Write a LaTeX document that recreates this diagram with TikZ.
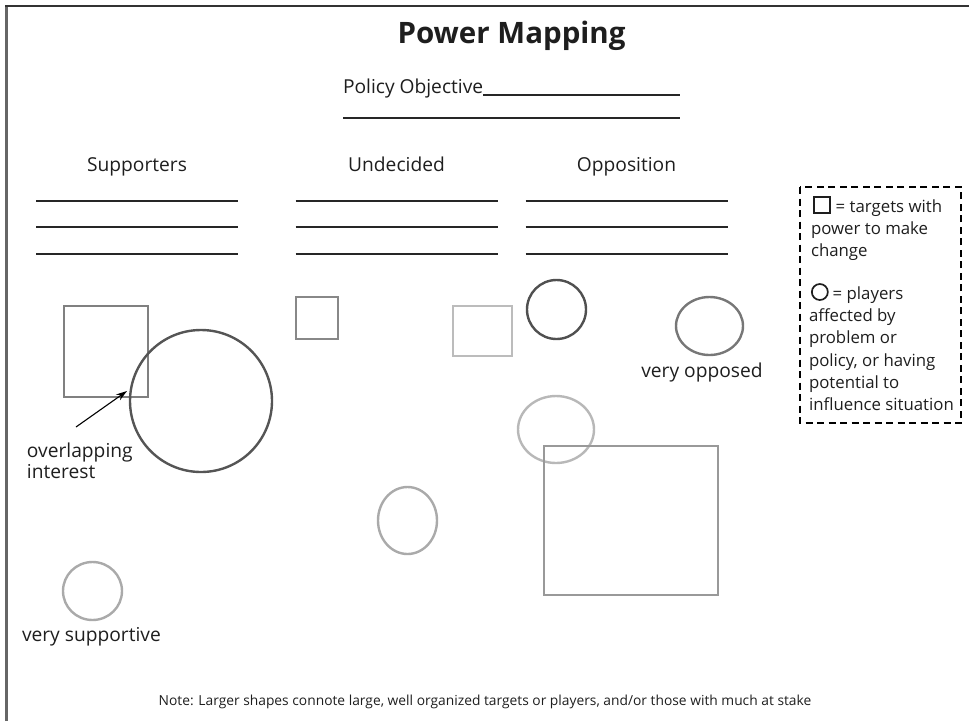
\documentclass[tikz,border=0pt]{standalone}
\usepackage{fontspec}
\setmainfont{Open Sans}
\usetikzlibrary{shapes.geometric,arrows.meta}

\definecolor{frameL}{HTML}{666666}
\definecolor{frameT}{HTML}{333333}
\definecolor{ink}{HTML}{1E1E1E}
\definecolor{shA}{HTML}{808080}
\definecolor{shB}{HTML}{555555}
\definecolor{shC}{HTML}{888888}
\definecolor{shD}{HTML}{BCBCBC}
\definecolor{shE}{HTML}{505050}
\definecolor{shF}{HTML}{777777}
\definecolor{shG}{HTML}{B8B8B8}
\definecolor{shH}{HTML}{999999}
\definecolor{shI}{HTML}{AAAAAA}

\tikzset{
  shp/.style={draw, line width=2.4pt, inner sep=0pt, outer sep=0pt},
  boxshape/.style={shp, rectangle},
  ringshape/.style={shp, ellipse},
  txt/.style={inner sep=0pt, outer sep=0pt, text=ink, font=\fontsize{19.2}{22}\selectfont},
  legtxt/.style={inner sep=0pt, outer sep=0pt, text=ink, anchor=base west, font=\fontsize{16.8}{22}\selectfont},
  blank/.style={line width=1.1pt, draw=black!85},
}

% legend icons set in the running text
\newcommand{\legsquare}{\tikz[baseline=0pt]\draw[line width=1.7pt] (0,-1pt) rectangle (16pt,15pt);\hspace{5pt}}
\newcommand{\legcircle}{\tikz[baseline=0pt]\draw[line width=1.7pt] (8pt,7pt) circle (8pt);\hspace{4pt}}

\begin{document}
\begin{tikzpicture}[x=1pt,y=-1pt]
\useasboundingbox (0,0) rectangle (969,721);

% page frame (left and top edges)
\draw[frameL, line width=2.4pt] (6.5,721) -- (6.5,6);
\draw[frameT, line width=2pt] (5.3,6) -- (969,6);

% title and objective
\node[txt, anchor=base, font=\fontsize{29.5}{32}\selectfont\bfseries] (title) at (511.5,43) {Power Mapping};
\node[txt, anchor=base west] (objective) at (343,93) {Policy Objective};
\coordinate (objEnd) at (680,95);
\draw[blank] (objective.base east |- objEnd) -- (objEnd);
\coordinate (obj2a) at (343,118);
\coordinate (obj2b) at (680,118);
\draw[blank] (obj2a) -- (obj2b);

% column headings with blank lines
\node[txt, anchor=base] (sup) at (137,171) {Supporters};
\node[txt, anchor=base] (und) at (396.5,171) {Undecided};
\node[txt, anchor=base] (opp) at (626.5,171) {Opposition};
\foreach \cx/\nm in {137/s, 396.5/u, 626.5/o}{
  \foreach \ly [count=\k] in {201,227,254}{
    \coordinate (\nm l\k a) at (\cx-101,\ly);
    \coordinate (\nm l\k b) at (\cx+101,\ly);
    \draw[blank] (\nm l\k a) -- (\nm l\k b);
  }
}

% targets (squares) and players (circles)
\node[boxshape, draw=shA, minimum width=84pt, minimum height=91pt] (sqA) at (106,351.5) {};
\node[ringshape, draw=shB, minimum width=142pt, minimum height=142pt] (bigC) at (201,401) {};
\node[boxshape, draw=shC, minimum width=42pt, minimum height=42pt] (sqB) at (317,318) {};
\node[boxshape, draw=shD, minimum width=59pt, minimum height=50pt] (sqC) at (482.5,331) {};
\node[ringshape, draw=shE, minimum width=59pt, minimum height=59pt] (cirD) at (556.5,309.5) {};
\node[ringshape, draw=shF, minimum width=67pt, minimum height=58pt] (ellE) at (709.5,326) {};
\node[ringshape, draw=shG, minimum width=76pt, minimum height=67pt] (ellF) at (556,429.5) {};
\node[boxshape, draw=shH, minimum width=174pt, minimum height=149pt] (sqG) at (631,520.5) {};
\node[ringshape, draw=shI, minimum width=59pt, minimum height=67pt] (ellH) at (407.5,520.5) {};
\node[ringshape, draw=shI, minimum width=59pt, minimum height=58pt] (cirI) at (92.5,591) {};

% annotations
\node[txt, anchor=base west] (ovl1) at (27,457) {overlapping};
\node[txt, anchor=base west] (ovl2) at (27,478) {interest};
\coordinate (arrTail) at (76,427);
\coordinate (arrTip) at (127,391);
\draw[line width=1.1pt, -{Stealth[length=11pt,width=7pt]}] (arrTail) -- (arrTip);
\node[txt, anchor=base] (vopp) at (702,377) {very opposed};
\node[txt, anchor=base west] (vsup) at (22,641) {very supportive};

% legend
\draw[line width=2pt, dash pattern=on 7pt off 4.5pt] (800,187) rectangle (961,423);
\node[legtxt] (lg1) at (813,212) {\legsquare= targets with};
\node[legtxt] (lg2) at (811,234) {power to make};
\node[legtxt] (lg3) at (811,256) {change};
\node[legtxt] (lg4) at (811,299) {\legcircle= players};
\node[legtxt] (lg5) at (809,321) {affected by};
\node[legtxt] (lg6) at (809,343) {problem or};
\node[legtxt] (lg7) at (809,366) {policy, or having};
\node[legtxt] (lg8) at (809,388) {potential to};
\node[legtxt] (lg9) at (809,410) {influence situation};

% footnote
\node[txt, anchor=base, font=\fontsize{13.8}{17}\selectfont] (note) at (485,705) {Note: Larger shapes connote large, well organized targets or players, and/or those with much at stake};
\end{tikzpicture}
\end{document}
